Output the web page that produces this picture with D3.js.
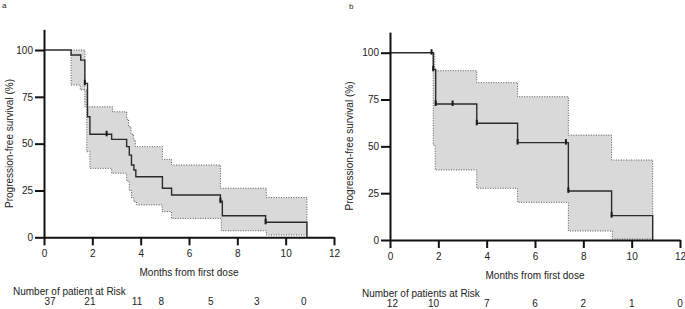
<!DOCTYPE html>
<html>
<head>
<meta charset="utf-8">
<script src="https://cdn.jsdelivr.net/npm/d3@7"></script>
<style>
  body { margin: 0; background: #fff; }
  svg { display: block; font-family: "Liberation Sans", Arial, sans-serif; }
</style>
</head>
<body>
<svg id="chart" width="685" height="309"></svg>
<script>
// panel a: survival curve (step after each time)
const aTimes = [0, 1.12, 1.52, 1.69, 1.8, 1.9, 2.8, 3.42, 3.53, 3.62, 3.72, 3.8, 4.9, 5.28, 7.3, 7.38, 9.17, 10.88]
const aSurv  = [100, 97.3, 94.6, 82.2, 64.4, 55.0, 52.3, 48.4, 43.9, 38.6, 35.9, 32.3, 26.2, 22.6, 19.3, 11.5, 8.0, 0]
const aLoTimes = [0, 1.12, 1.5, 1.77, 1.9, 2.8, 3.42, 3.53, 3.62, 3.72, 3.83, 4.89, 5.28, 7.34, 9.2]
const aLo      = [100, 81.3, 78.7, 45.7, 36.8, 34.2, 30, 25, 21, 19, 17.3, 13.7, 10.1, 3.5, 1.2]
const aHiTimes = [0, 1.69, 2.84, 3.42, 3.5, 3.6, 3.7, 3.78, 4.9, 5.28, 7.3, 9.2]
const aHi      = [100, 69.7, 67, 63, 59, 55, 52, 48.4, 41.6, 38.6, 26.2, 21.2]
const aCensor = [1.69, 2.59, 7.3, 9.17]
const aRiskTimes = [0.25, 1.9, 3.85, 4.85, 6.9, 8.8, 10.75]
const aRisk = [37, 21, 11, 8, 5, 3, 0]

// panel b
const bTimes = [0, 1.79, 1.89, 3.59, 5.28, 7.38, 9.17, 10.87]
const bSurv  = [100, 91.1, 72.6, 62.3, 52.0, 26.2, 13.0, 0]
const bLoTimes = [0, 1.79, 1.87, 3.59, 5.28, 7.38, 9.2]
const bLo      = [100, 50.7, 37.4, 27.6, 20.1, 4.8, 0.5]
const bHiTimes = [0, 1.85, 3.59, 5.28, 7.38, 9.17]
const bHi      = [100, 90.4, 84, 76.5, 56, 42.7]
const bCensor = [1.72, 1.79, 1.89, 2.59, 3.59, 5.28, 7.28, 7.38, 9.17]
const bRiskTimes = [0.1, 1.8, 4, 6, 8, 10, 12]
const bRisk = [12, 10, 7, 6, 2, 1, 0]

const xTicks = [0, 2, 4, 6, 8, 10, 12]
const yTicks = [0, 25, 50, 75, 100]

const svg = d3.select('#chart')

const stepAt = (times, vals, t) => {
    let v = vals[0]
    times.forEach((tt, i) => { if (tt <= t) v = vals[i] })
    return v
}

function drawPanel(p) {
    const g = svg.append('g')
    const x = d3.scaleLinear().domain([0, 12]).range(p.xRange)
    const y = d3.scaleLinear().domain([0, 100]).range(p.yRange)
    const start = p.loTimes[1]
    const end = p.times[p.times.length - 1]

    // confidence band
    const bandTimes = Array.from(new Set([start, ...p.loTimes.filter(t => t >= start), ...p.hiTimes.filter(t => t >= start), end])).sort((a, b) => a - b)
    const band = bandTimes.map(t => ({t, lo: stepAt(p.loTimes, p.lo, t), hi: stepAt(p.hiTimes, p.hi, t)}))
    g.append('path')
        .datum(band)
        .attr('fill', '#d9d9d9')
        .attr('d', d3.area().curve(d3.curveStepAfter)
            .x(d => x(d.t)).y0(d => y(d.lo)).y1(d => y(d.hi)))

    const dotted = d3.line().curve(d3.curveStepAfter).x(d => x(d[0])).y(d => y(d[1]))
    const upper = [[start, 100], ...p.hiTimes.map((t, i) => [t, p.hi[i]]).filter(d => d[0] >= start),
        [end, p.hi[p.hi.length - 1]], [end, p.lo[p.lo.length - 1]]]
    upper.sort((a, b) => a[0] - b[0])
    const lower = [[start, 100], ...p.loTimes.map((t, i) => [t, p.lo[i]]).filter(d => d[0] >= start),
        [end, p.lo[p.lo.length - 1]]]
    ;[upper, lower].forEach(pts => {
        g.append('path')
            .datum(pts)
            .attr('fill', 'none')
            .attr('stroke', '#555')
            .attr('stroke-width', 1)
            .attr('stroke-dasharray', '1,1.5')
            .attr('d', dotted)
    })

    // survival curve
    g.append('path')
        .datum(p.times.map((t, i) => [t, p.surv[i]]))
        .attr('fill', 'none')
        .attr('stroke', '#2b2b2b')
        .attr('stroke-width', 1.4)
        .attr('d', d3.line().curve(d3.curveStepAfter).x(d => x(d[0])).y(d => y(d[1])))

    // censor marks
    g.selectAll('.censor')
        .data(p.censor)
        .join('line')
        .attr('x1', d => x(d)).attr('x2', d => x(d))
        .attr('y1', d => y(stepAt(p.times, p.surv, d)) - 3.5)
        .attr('y2', d => y(stepAt(p.times, p.surv, d)) + 2)
        .attr('stroke', '#1a1a1a')
        .attr('stroke-width', 2)

    // axes
    const yAxisScale = y.copy().domain([0, 111]).range([y(0), y(111)])
    const yAx = g.append('g')
        .attr('transform', `translate(${x(0)},0)`)
        .call(d3.axisLeft(yAxisScale).tickValues(yTicks).tickSize(9).tickSizeOuter(0).tickPadding(2))
    const xAx = g.append('g')
        .attr('transform', `translate(0,${y(0)})`)
        .call(d3.axisBottom(x).tickValues(xTicks).tickSize(8).tickSizeOuter(0).tickPadding(5))
    ;[yAx, xAx].forEach(ax => {
        ax.select('.domain').attr('stroke', '#111').attr('stroke-width', 2)
        ax.selectAll('.tick line').attr('stroke', '#111').attr('stroke-width', 2)
        ax.selectAll('.tick text').attr('fill', '#222').style('font-size', '10px')
            .style('font-family', '"Liberation Sans", Arial, sans-serif')
    })

    g.append('text')
        .attr('transform', `translate(${p.yLabelX},${p.yLabelY}) rotate(-90)`)
        .attr('text-anchor', 'middle')
        .attr('dy', '0.35em')
        .style('font-size', '10px')
        .attr('fill', '#222')
        .text('Progression-free survival (%)')

    g.append('text')
        .attr('x', (x(0) + x(12)) / 2)
        .attr('y', p.xLabelY)
        .attr('text-anchor', 'middle')
        .style('font-size', '10px')
        .attr('fill', '#222')
        .text('Months from first dose')

    g.append('text')
        .attr('x', p.letterX).attr('y', p.letterY)
        .style('font-size', '8px')
        .attr('fill', '#222')
        .text(p.letter)

    // numbers at risk
    g.append('text')
        .attr('x', p.riskTitleX).attr('y', p.riskTitleY)
        .style('font-size', '10px')
        .attr('fill', '#222')
        .text(p.riskTitle)
    const rx = d3.scaleLinear().domain([0, 12]).range(p.xRange)
    g.selectAll('.risk')
        .data(p.riskTimes)
        .join('text')
        .attr('x', d => rx(d))
        .attr('y', p.riskY)
        .attr('text-anchor', 'middle')
        .style('font-size', '10px')
        .attr('fill', '#222')
        .text((d, i) => p.risk[i])
}

drawPanel({
    letter: 'a', letterX: 2, letterY: 8,
    xRange: [44, 334], yRange: [237.3, 50],
    times: aTimes, surv: aSurv, loTimes: aLoTimes, lo: aLo, hiTimes: aHiTimes, hi: aHi,
    censor: aCensor,
    yLabelX: 9, yLabelY: 143.5, xLabelY: 275.5,
    riskTitle: 'Number of patient at Risk', riskTitleX: 13, riskTitleY: 294.5,
    riskTimes: aRiskTimes, risk: aRisk, riskY: 305
})

drawPanel({
    letter: 'b', letterX: 349, letterY: 9,
    xRange: [390, 680], yRange: [240, 52.7],
    times: bTimes, surv: bSurv, loTimes: bLoTimes, lo: bLo, hiTimes: bHiTimes, hi: bHi,
    censor: bCensor,
    yLabelX: 349, yLabelY: 146, xLabelY: 279,
    riskTitle: 'Number of patients at Risk', riskTitleX: 362, riskTitleY: 297,
    riskTimes: bRiskTimes, risk: bRisk, riskY: 307
})
</script>
</body>
</html>
